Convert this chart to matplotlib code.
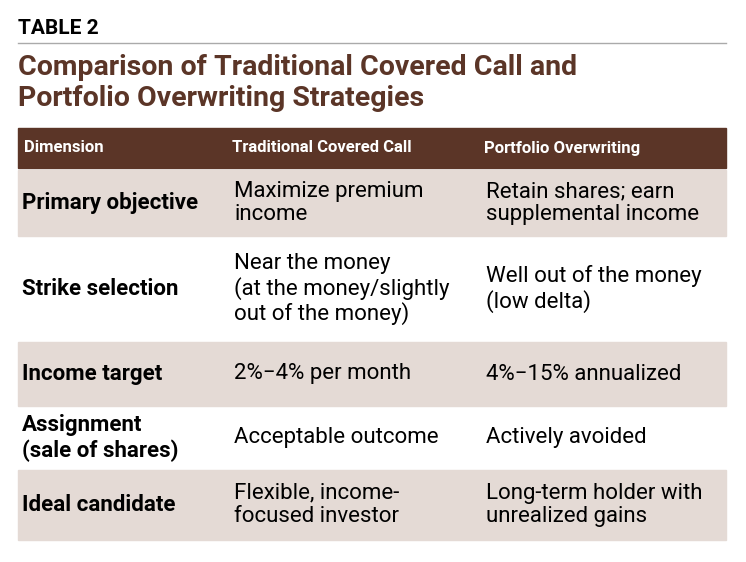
import matplotlib.pyplot as plt
from matplotlib.patches import Rectangle

plt.rcParams['font.family'] = ['Roboto', 'DejaVu Sans']

label = "TABLE 2"
title = "Comparison of Traditional Covered Call and\nPortfolio Overwriting Strategies"
headers = ["Dimension", "Traditional Covered Call", "Portfolio Overwriting"]
rows = [
    ["Primary objective", "Maximize premium\nincome", "Retain shares; earn\nsupplemental income"],
    ["Strike selection", "Near the money\n(at the money/slightly\nout of the money)", "Well out of the money\n(low delta)"],
    ["Income target", "2%\u22124% per month", "4%\u221215% annualized"],
    ["Assignment\n(sale of shares)", "Acceptable outcome", "Actively avoided"],
    ["Ideal candidate", "Flexible, income-\nfocused investor", "Long-term holder with\nunrealized gains"],
]
row_edges = [168, 236, 340, 406, 468, 540]
col_x = [18, 226, 478, 726]

brown = "#5b3527"
shade = "#e4dad5"

fig = plt.figure(figsize=(7.46, 5.62), dpi=100)
ax = fig.add_axes([0, 0, 1, 1])
ax.set_xlim(0, 746)
ax.set_ylim(562, 0)
ax.axis("off")

ax.text(18, 29, label, fontsize=15, fontweight="bold", color="black", va="center")
ax.plot([18, 726], [43, 43], color="#aaaaaa", lw=1)
ax.text(18, 83, title, fontsize=20.5, fontweight="bold", color=brown, va="center",
        linespacing=1.2)

# header
ax.add_patch(Rectangle((18, 128), 708, 40, color=brown))
for x, h in zip(col_x, headers):
    ax.text(x + 6, 148, h, fontsize=12, fontweight="bold", color="white", va="center")

for i, r in enumerate(rows):
    top, bot = row_edges[i], row_edges[i + 1]
    if i % 2 == 0:
        ax.add_patch(Rectangle((18, top + 2), 708, bot - top - 2, color=shade))
    mid = (top + bot) / 2 + 1
    for j, cell in enumerate(r):
        ax.text(col_x[j] + (4 if j == 0 else 8), mid, cell, fontsize=16,
                fontweight="bold" if j == 0 else "normal", color="black",
                va="center", linespacing=1.15)

fig.savefig("out.png", dpi=100)
